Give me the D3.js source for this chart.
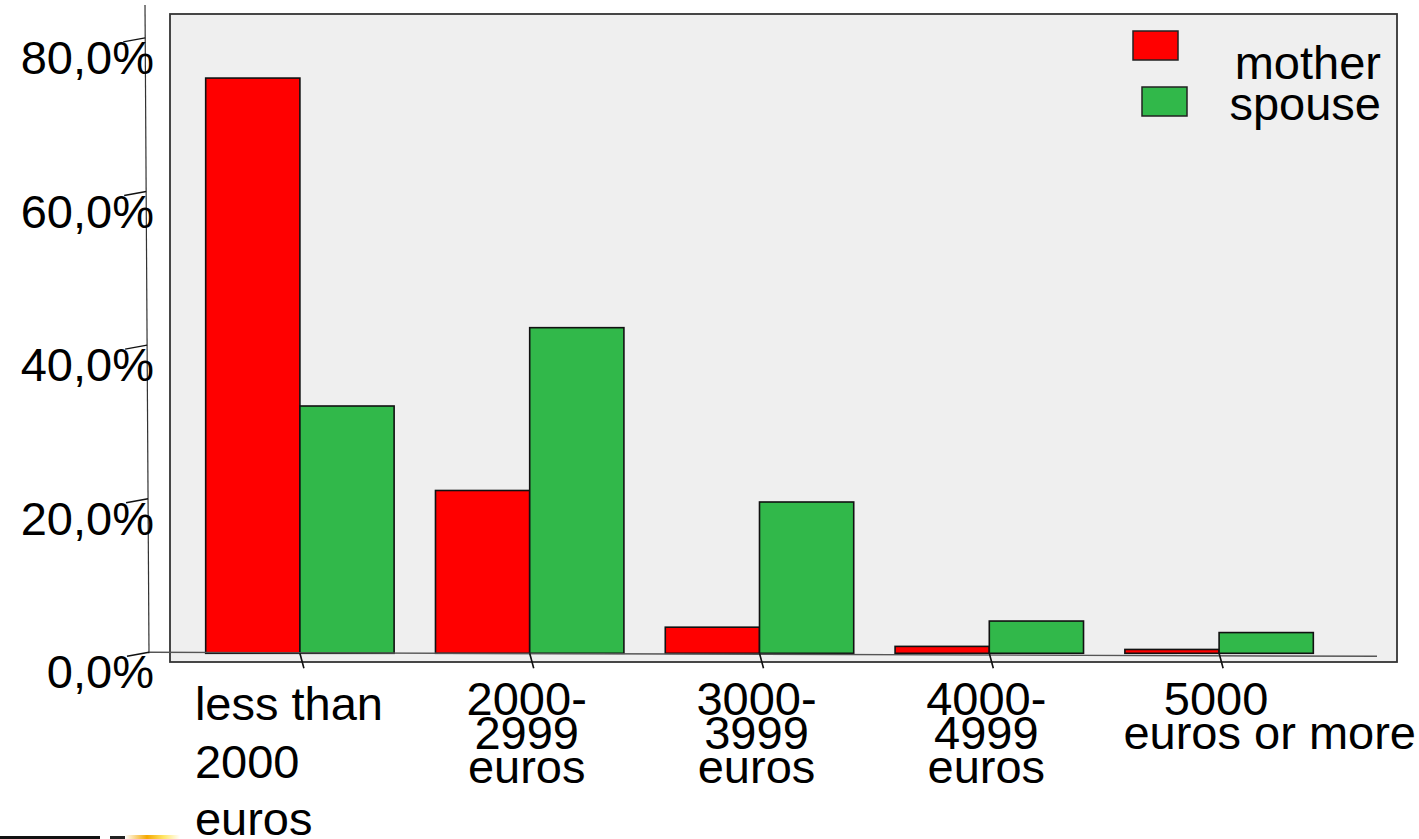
<!DOCTYPE html>
<html>
<head>
<meta charset="utf-8">
<script src="https://cdn.jsdelivr.net/npm/d3@7"></script>
<style>
  html, body { margin: 0; padding: 0; background: #fff; }
  svg { display: block; font-family: "Liberation Sans", Arial, sans-serif; }
</style>
</head>
<body>
<svg id="chart" width="1419" height="839"></svg>
<script>
// ---- data ----
const categories = ["less than 2000 euros", "2000-2999 euros", "3000-3999 euros", "4000-4999 euros", "5000 euros or more"];
const categoryLabelLines = [
  ["less than", "2000", "euros"],
  ["2000-", "2999", "euros"],
  ["3000-", "3999", "euros"],
  ["4000-", "4999", "euros"],
  ["5000", "euros or more"]
];
const seriesNames = ["mother", "spouse"];
const motherValues = [74.9, 21.2, 3.4, 0.9, 0.5];
const spouseValues = [32.2, 42.4, 19.7, 4.2, 2.7];
const yTickValues = [0, 20, 40, 60, 80];

// ---- styling ----
const colors = { mother: "#ff0000", spouse: "#31b84a" };
const svg = d3.select("#chart");
const fontSize = 47;

// scales
const x0 = d3.scaleBand().domain(categories).range([185, 1334]).paddingInner(0.18).paddingOuter(0.09);
const x1 = d3.scaleBand().domain(seriesNames).range([0, x0.bandwidth()]).padding(0);
const y = d3.scaleLinear().domain([0, 80]).range([653.3, 38.9]);

// panel
svg.append("rect")
  .attr("x", 170).attr("y", 14).attr("width", 1227).attr("height", 648)
  .attr("fill", "#efefef").attr("stroke", "#333").attr("stroke-width", 1.8);

// x axis line (slightly tilted) + ticks
const xAxisG = svg.append("g").attr("transform", `translate(0,${y(0)})`)
  .call(d3.axisBottom(x0).tickSizeOuter(0).tickFormat(""));
xAxisG.select(".domain").attr("d", "M149,-1L1377,3").attr("stroke", "#555").attr("stroke-width", 1.4);

// bars
const rows = categories.map((c, i) => ({ cat: c, values: [
  { key: "mother", value: motherValues[i] },
  { key: "spouse", value: spouseValues[i] }
]}));
const groups = svg.append("g").selectAll("g").data(rows).join("g")
  .attr("transform", d => `translate(${x0(d.cat)},0)`);
groups.selectAll("rect").data(d => d.values).join("rect")
  .attr("x", d => x1(d.key))
  .attr("y", d => y(d.value))
  .attr("width", x1.bandwidth())
  .attr("height", d => y(0) - y(d.value))
  .attr("fill", d => colors[d.key])
  .attr("stroke", "#111").attr("stroke-width", 1.6);

// x ticks (slanted), drawn above bars
xAxisG.raise();
xAxisG.selectAll(".tick line")
  .attr("x1", 0).attr("y1", 0).attr("x2", 4).attr("y2", 15)
  .attr("stroke", "#111").attr("stroke-width", 1.6);
xAxisG.selectAll(".tick text").remove();

// x labels
const labelG = svg.append("g").attr("font-size", fontSize).attr("fill", "#000");
categoryLabelLines.forEach((lines, i) => {
  const cx = x0(categories[i]) + x0.bandwidth() / 2;
  lines.forEach((ln, j) => {
    const t = labelG.append("text").text(ln);
    if (i === 0) {
      t.attr("x", cx - 105).attr("y", 720 + j * 57.5).attr("text-anchor", "start");
    } else if (i === categories.length - 1 && j === lines.length - 1) {
      t.attr("x", 1416).attr("y", 715 + j * 34).attr("text-anchor", "end");
    } else {
      t.attr("x", cx - 3).attr("y", 715 + j * 34).attr("text-anchor", "middle");
    }
  });
});

// y axis (tilted line + slanted ticks)
const yAxisG = svg.append("g").attr("transform", "translate(149,0)")
  .call(d3.axisLeft(y).tickValues(yTickValues).tickSizeOuter(0)
    .tickFormat(d => d3.format(".1f")(d).replace(".", ",") + "%"));
const tiltX = v => -4 * (y(0) - v) / (y(0) - 5);
yAxisG.select(".domain").attr("d", `M-4,5L0,${y(0)}`).attr("stroke", "#333").attr("stroke-width", 1.2);
yAxisG.selectAll(".tick").attr("transform", d => `translate(0,${y(d)})`);
yAxisG.selectAll(".tick line")
  .attr("x1", d => tiltX(y(d))).attr("y1", -1)
  .attr("x2", d => tiltX(y(d)) - 22).attr("y2", 3)
  .attr("stroke", "#111").attr("stroke-width", 1.4);
yAxisG.selectAll(".tick text")
  .attr("x", 5).attr("dy", null).attr("y", 35)
  .attr("font-size", fontSize).attr("font-family", "Liberation Sans, Arial, sans-serif")
  .attr("fill", "#000").attr("text-anchor", "end");
yAxisG.attr("font-size", null).attr("font-family", null);

// legend
const legend = svg.append("g");
const legendSwatch = [{ x: 1133, y: 31 }, { x: 1142, y: 87 }];
const legendBaseline = [79, 120];
seriesNames.forEach((s, i) => {
  legend.append("rect")
    .attr("x", legendSwatch[i].x).attr("y", legendSwatch[i].y)
    .attr("width", 45).attr("height", 29)
    .attr("fill", colors[s]).attr("stroke", "#222").attr("stroke-width", 1.5);
  legend.append("text").text(s)
    .attr("x", 1381).attr("y", legendBaseline[i])
    .attr("text-anchor", "end").attr("font-size", fontSize).attr("fill", "#000");
});

// bottom-left cropping artefact strip
const defs = svg.append("defs");
const grad = defs.append("linearGradient").attr("id", "artg");
grad.append("stop").attr("offset", "0%").attr("stop-color", "#fff");
grad.append("stop").attr("offset", "40%").attr("stop-color", "#f5a800");
grad.append("stop").attr("offset", "70%").attr("stop-color", "#ffe566");
grad.append("stop").attr("offset", "100%").attr("stop-color", "#fff");
svg.append("rect").attr("x", 0).attr("y", 836).attr("width", 100).attr("height", 3).attr("fill", "#111");
svg.append("rect").attr("x", 110).attr("y", 836).attr("width", 40).attr("height", 3).attr("fill", "#222");
svg.append("rect").attr("x", 125).attr("y", 835).attr("width", 55).attr("height", 4).attr("fill", "url(#artg)");
</script>
</body>
</html>
